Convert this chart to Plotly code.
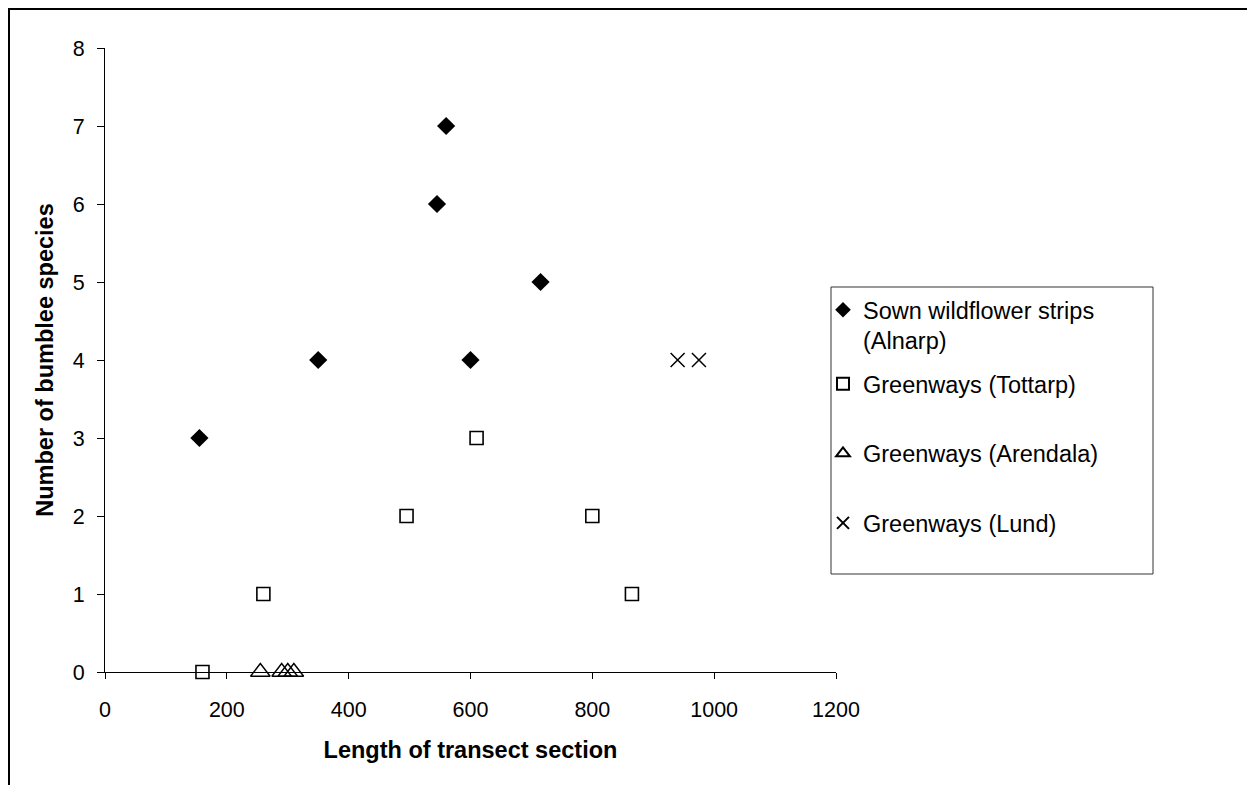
import plotly.graph_objects as go

# Data
alnarp_x = [155, 350, 545, 560, 600, 715]
alnarp_y = [3, 4, 6, 7, 4, 5]
tottarp_x = [160, 260, 495, 610, 800, 865]
tottarp_y = [0, 1, 2, 3, 2, 1]
arendala_x = [255, 290, 300, 310]
arendala_y = [0, 0, 0, 0]
lund_x = [940, 975]
lund_y = [4, 4]

x_ticks = [0, 200, 400, 600, 800, 1000, 1200]
y_ticks = [0, 1, 2, 3, 4, 5, 6, 7, 8]

OFF = 8  # page body margin
W, H = 1255 - OFF, 785 - OFF
# plot area in page pixels
L, R, T, B = 105 - OFF, 836 - OFF, 48 - OFF, 672 - OFF


def px(x):
    return (x - OFF - L) / (R - L)


def py(y):
    return (B - (y - OFF)) / (B - T)


FONT = "Liberation Sans, Arial, sans-serif"
TICK_SIZE = 21.5
TITLE_SIZE = 23.5
LEG_SIZE = 23.5

fig = go.Figure()
fig.add_trace(go.Scatter(
    x=alnarp_x, y=alnarp_y, mode="markers", name="Sown wildflower strips<br>(Alnarp)",
    legend="legend",
    marker=dict(symbol="diamond", size=14, color="black", line=dict(width=0)),
    cliponaxis=False))
fig.add_trace(go.Scatter(
    x=tottarp_x, y=tottarp_y, mode="markers", name="Greenways (Tottarp)",
    legend="legend2", legendgroup="b",
    marker=dict(symbol="square-open", size=13, color="black", line=dict(width=1.6)),
    cliponaxis=False))
fig.add_trace(go.Scatter(
    x=arendala_x, y=arendala_y, mode="markers", name="Greenways (Arendala)",
    legend="legend2", legendgroup="c",
    marker=dict(symbol="triangle-up-open", size=17, color="black", line=dict(width=1.4)),
    cliponaxis=False))
fig.add_trace(go.Scatter(
    x=lund_x, y=lund_y, mode="markers", name="Greenways (Lund)",
    legend="legend2", legendgroup="d",
    marker=dict(symbol="x-thin-open", size=14, color="black", line=dict(width=1.5)),
    cliponaxis=False))

shapes = [
    # outer frame (top and left lines)
    dict(type="line", xref="paper", yref="paper", x0=px(8), x1=px(1260), y0=py(9), y1=py(9),
         line=dict(color="black", width=2)),
    dict(type="line", xref="paper", yref="paper", x0=px(9), x1=px(9), y0=py(8), y1=py(790),
         line=dict(color="black", width=2)),
    # legend box
    dict(type="rect", xref="paper", yref="paper", x0=px(831), x1=px(1153), y0=py(287), y1=py(574),
         line=dict(color="#333333", width=1), fillcolor="rgba(0,0,0,0)"),
]

legend_common = dict(
    xanchor="left", yanchor="top",
    bgcolor="rgba(0,0,0,0)", borderwidth=0,
    font=dict(family=FONT, size=LEG_SIZE, color="black"),
    itemsizing="constant", itemwidth=30,
)

fig.update_layout(
    width=W, height=H,
    margin=dict(l=L, r=W - R, t=T, b=H - B, pad=0),
    paper_bgcolor="white", plot_bgcolor="white",
    font=dict(family=FONT, size=TICK_SIZE, color="black"),
    showlegend=True,
    legend=dict(x=px(823), y=py(288), valign="top", **legend_common),
    legend2=dict(x=px(823), y=py(362), tracegroupgap=36, **legend_common),
    shapes=shapes,
    xaxis=dict(
        range=[0, 1200], tickvals=x_ticks, ticktext=[str(v) for v in x_ticks],
        showgrid=False, zeroline=False, showline=True, linecolor="black", linewidth=1,
        ticks="outside", ticklen=6, tickcolor="black", tickwidth=1,
        ticklabelstandoff=12,
        tickfont=dict(family=FONT, size=TICK_SIZE),
        title=dict(text="<b>Length of transect section</b>", font=dict(family=FONT, size=TITLE_SIZE), standoff=20),
    ),
    yaxis=dict(
        range=[0, 8], tickvals=y_ticks, ticktext=[str(v) for v in y_ticks],
        showgrid=False, zeroline=False, showline=True, linecolor="black", linewidth=1,
        ticks="outside", ticklen=7, tickcolor="black", tickwidth=1,
        ticklabelstandoff=8,
        tickfont=dict(family=FONT, size=TICK_SIZE),
        title=dict(text="<b>Number of bumblee species</b>", font=dict(family=FONT, size=TITLE_SIZE), standoff=12),
    ),
)

fig.write_html("out.html")
